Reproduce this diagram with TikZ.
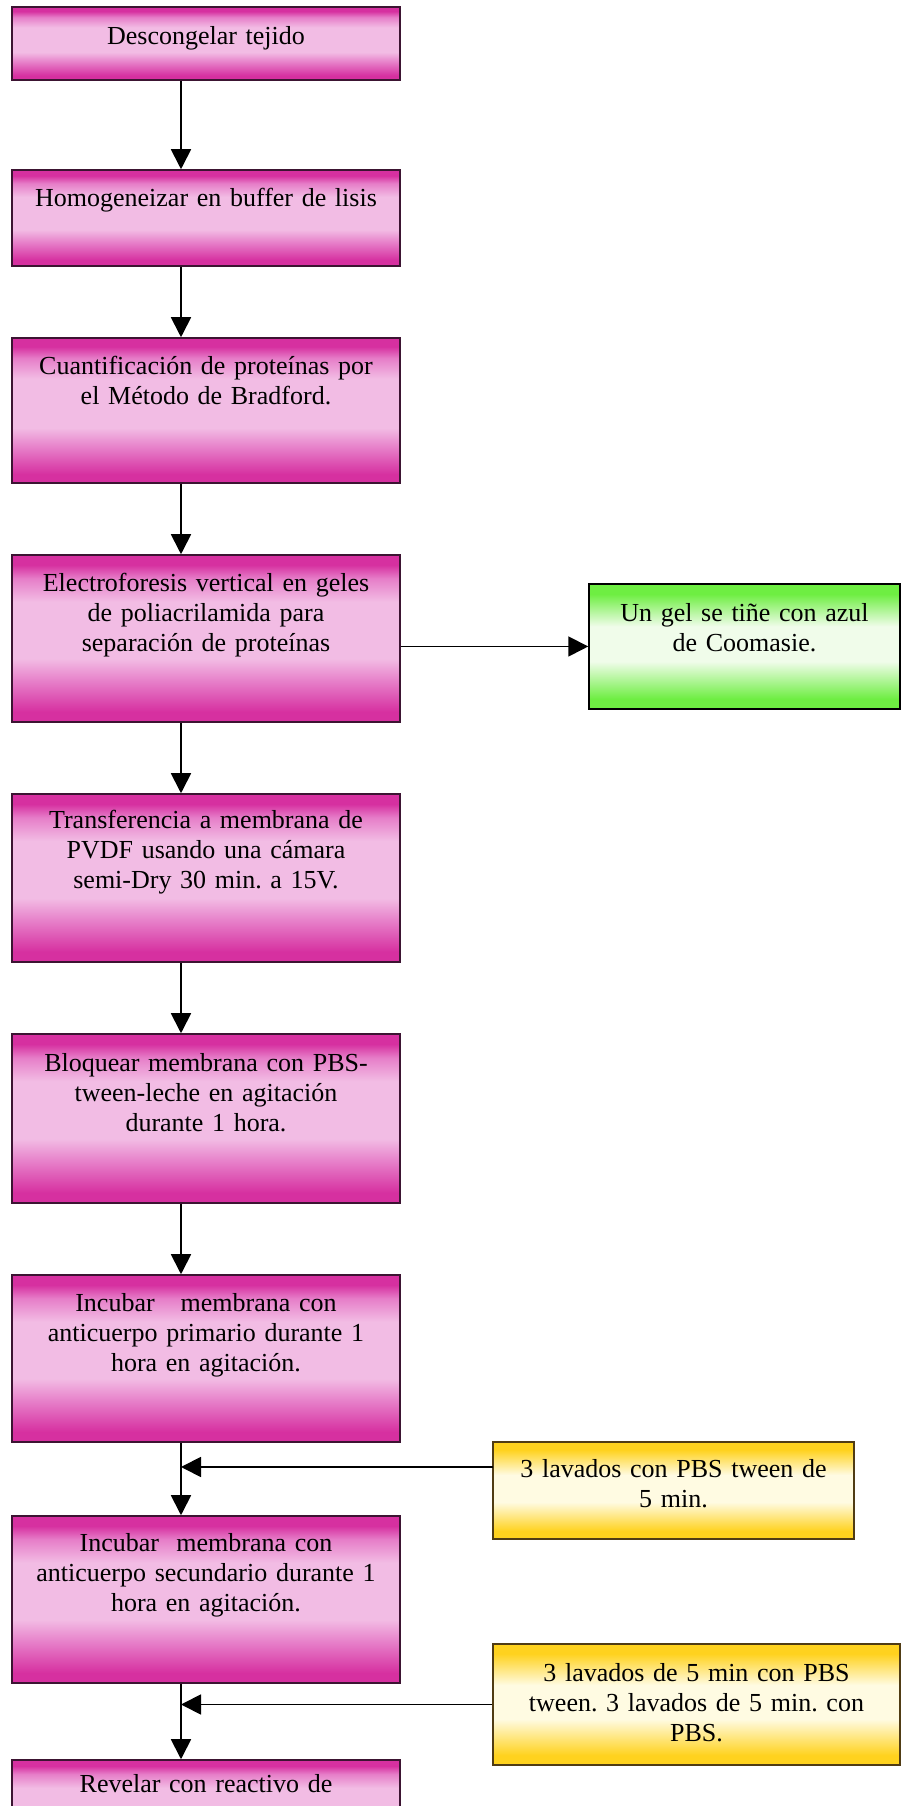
\documentclass[tikz,border=0pt]{standalone}
\usepackage{fontspec}
\setmainfont{Liberation Serif}
\usetikzlibrary{arrows.meta}
\frenchspacing

\definecolor{pinkdark}{RGB}{214,48,160}
\definecolor{pinkmid}{RGB}{230,125,200}
\definecolor{pinklight}{RGB}{242,188,228}
\definecolor{pinkline}{RGB}{60,20,50}
\definecolor{greendark}{RGB}{110,238,66}
\definecolor{greenlight}{RGB}{240,252,234}
\definecolor{yellowdark}{RGB}{255,210,30}
\definecolor{yellowlight}{RGB}{255,251,226}
\definecolor{yellowline}{RGB}{80,60,20}

\pgfdeclareverticalshading{pinkshade}{100bp}{color(0bp)=(pinkdark); color(25bp)=(pinkdark);
  color(28bp)=(pinkdark); color(37bp)=(pinkmid); color(44bp)=(pinklight); color(61bp)=(pinklight);
  color(68bp)=(pinkmid); color(72bp)=(pinkdark); color(75bp)=(pinkdark); color(100bp)=(pinkdark)}
\pgfdeclareverticalshading{greenshade}{100bp}{color(0bp)=(greendark); color(25bp)=(greendark);
  color(29bp)=(greendark); color(44bp)=(greenlight); color(58bp)=(greenlight); color(71bp)=(greendark);
  color(75bp)=(greendark); color(100bp)=(greendark)}
\pgfdeclareverticalshading{yellowshade}{100bp}{color(0bp)=(yellowdark); color(25bp)=(yellowdark);
  color(29bp)=(yellowdark); color(44bp)=(yellowlight); color(58bp)=(yellowlight); color(71bp)=(yellowdark);
  color(75bp)=(yellowdark); color(100bp)=(yellowdark)}

\begin{document}
\begin{tikzpicture}[x=1pt,y=1pt,
    box/.style={rectangle,line width=1.5pt,inner sep=0pt},
    pinkbox/.style={box,draw=pinkline,shading=pinkshade,minimum width=388pt},
    greenbox/.style={box,draw=black,shading=greenshade},
    yellowbox/.style={box,draw=yellowline,shading=yellowshade},
    txt/.style={text width=380pt,align=center,inner sep=0pt,anchor=base,
      font=\fontsize{26}{30}\selectfont},
    arr/.style={line width=1.8pt,-{Triangle[length=20pt,width=20pt]}}]

\useasboundingbox[fill=white] (0,0) rectangle (901,1806);

% main column
\node[pinkbox,minimum height=73pt] (b1) at (206,1762.5) {};
\node[pinkbox,minimum height=96pt] (b2) at (206,1588) {};
\node[pinkbox,minimum height=145pt] (b3) at (206,1395.5) {};
\node[pinkbox,minimum height=167pt] (b4) at (206,1167.5) {};
\node[pinkbox,minimum height=168pt] (b5) at (206,928) {};
\node[pinkbox,minimum height=169pt] (b6) at (206,687.5) {};
\node[pinkbox,minimum height=167pt] (b7) at (206,447.5) {};
\node[pinkbox,minimum height=167pt] (b8) at (206,206.5) {};
\node[pinkbox,minimum height=100pt] (b9) at (206,-4) {};

% side boxes
\node[greenbox,minimum width=311pt,minimum height=125pt] (g) at (744.5,1159.5) {};
\node[yellowbox,minimum width=361pt,minimum height=97pt] (y1) at (673.5,315.5) {};
\node[yellowbox,minimum width=407pt,minimum height=121pt] (y2) at (696.5,101.5) {};

% texts
\node[txt] (t1) at (206,1761) {Descongelar tejido};
\node[txt] (t2) at (206,1599) {Homogeneizar en buffer de lisis};
\node[txt] (t3) at (206,1431) {Cuantificación de proteínas por\\el Método de Bradford.};
\node[txt] (t4) at (206,1214) {Electroforesis vertical en geles\\de poliacrilamida para\\separación de proteínas};
\node[txt] (t5) at (206,977) {Transferencia a membrana de\\PVDF usando una cámara\\semi-Dry 30 min. a 15V.};
\node[txt] (t6) at (206,734) {Bloquear membrana con PBS-\\tween-leche en agitación\\durante 1 hora.};
\node[txt] (t7) at (206,494) {Incubar\ \ \ membrana con\\anticuerpo primario durante 1\\hora en agitación.};
\node[txt] (t8) at (206,254) {Incubar\ \ membrana con\\anticuerpo secundario durante 1\\hora en agitación.};
\node[txt] (t9) at (206,13) {Revelar con reactivo de};
\node[txt] (tg) at (744.5,1184) {Un gel se tiñe con azul\\de Coomasie.};
\node[txt] (ty1) at (673.5,328) {3 lavados con PBS tween de\\5 min.};
\node[txt] (ty2) at (696.5,124) {3 lavados de 5 min con PBS\\tween. 3 lavados de 5 min. con\\PBS.};

% connectors
\coordinate (ax) at (181,0);
\coordinate (w1) at (493,339);
\draw[arr] (b1.south -| ax) -- (b2.north -| ax);
\draw[arr] (b2.south -| ax) -- (b3.north -| ax);
\draw[arr] (b3.south -| ax) -- (b4.north -| ax);
\draw[arr] (b4.south -| ax) -- (b5.north -| ax);
\draw[arr] (b5.south -| ax) -- (b6.north -| ax);
\draw[arr] (b6.south -| ax) -- (b7.north -| ax);
\draw[arr] (b7.south -| ax) -- (b8.north -| ax);
\draw[arr] (b8.south -| ax) -- (b9.north -| ax);
\draw[arr] (b4.east |- g.west) -- (g.west);
\draw[arr] (w1) -- (w1 -| ax);
\draw[arr] (y2.west) -- (y2.west -| ax);
\end{tikzpicture}
\end{document}
